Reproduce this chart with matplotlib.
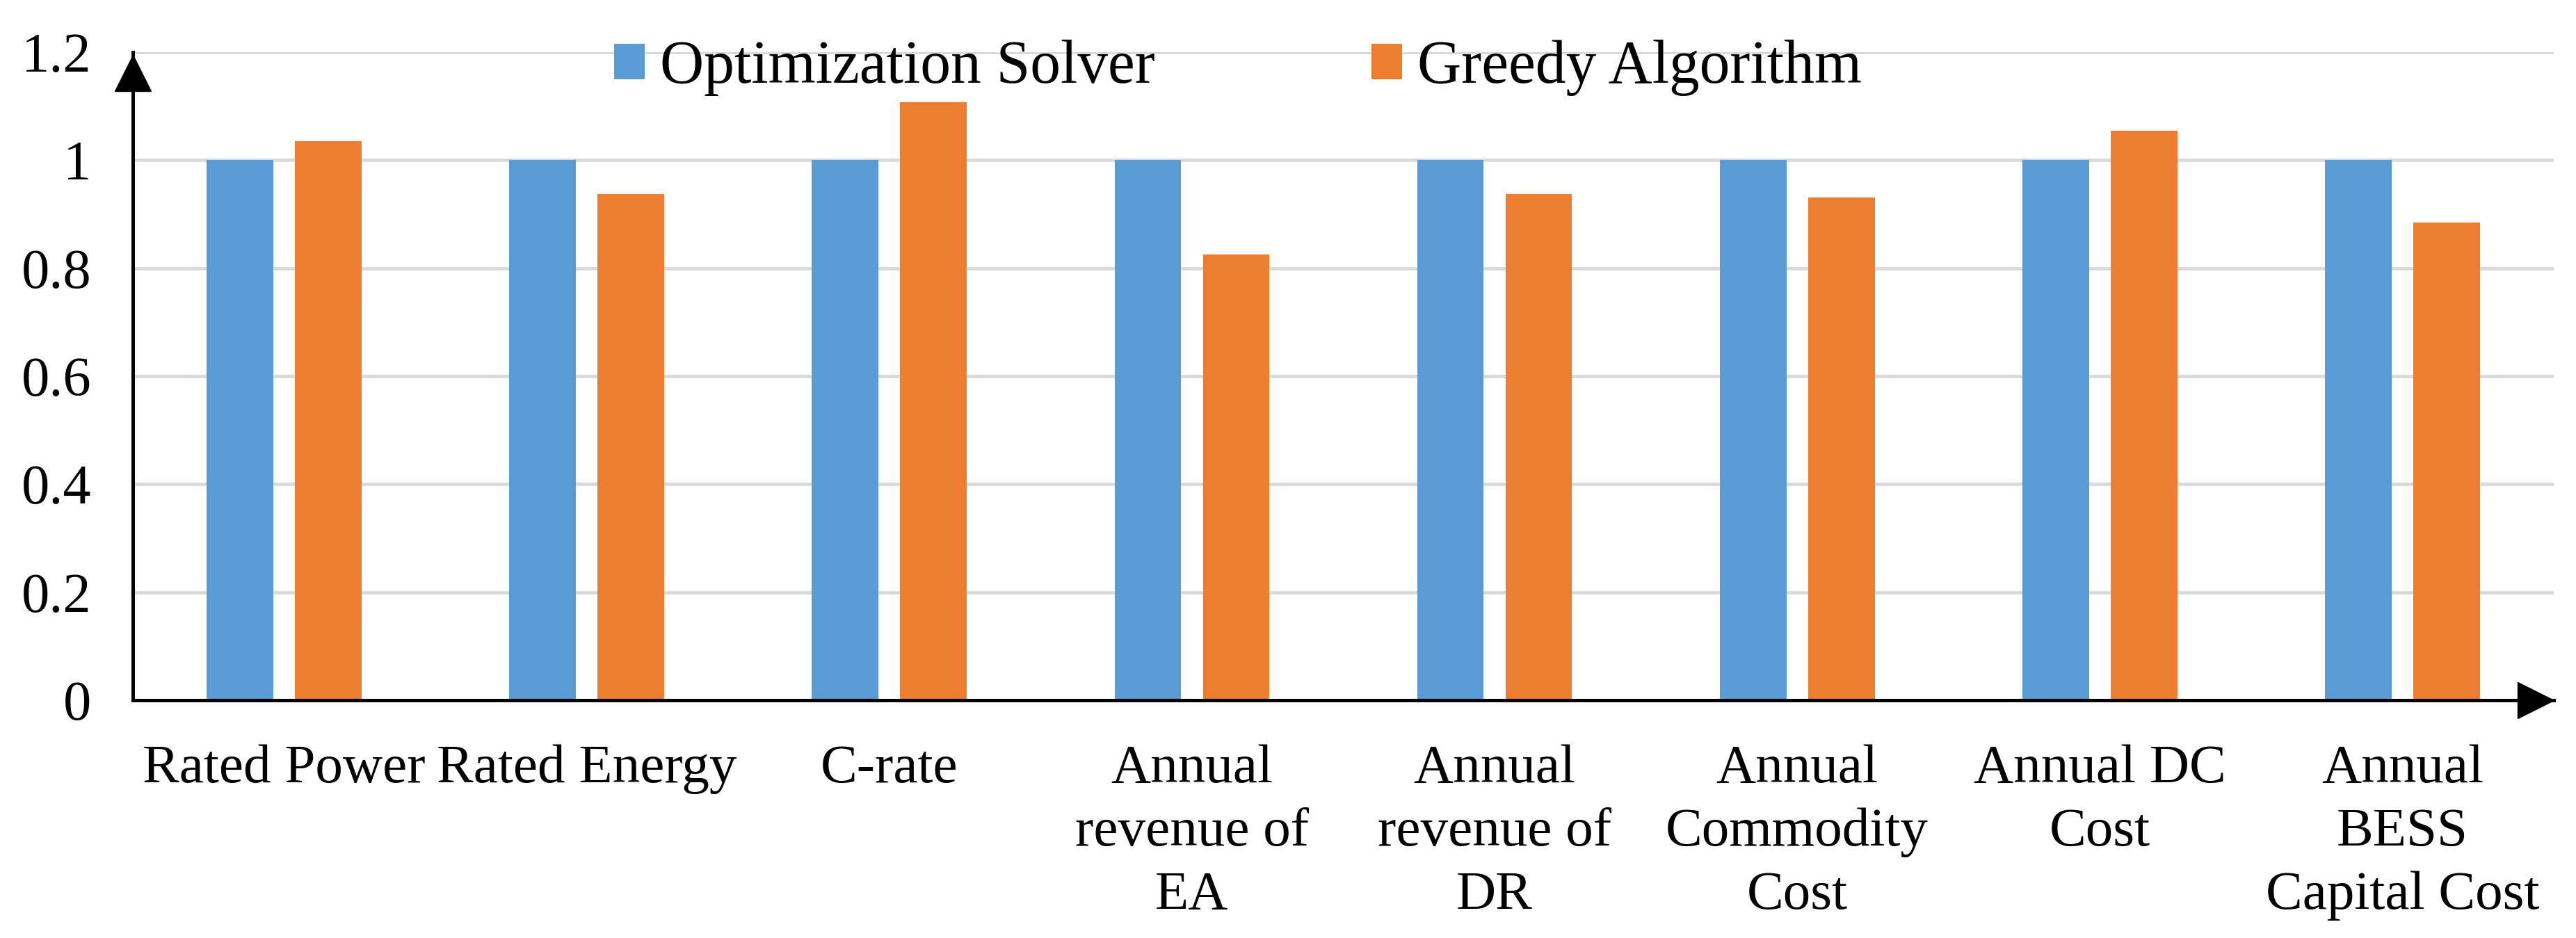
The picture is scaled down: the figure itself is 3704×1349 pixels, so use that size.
import numpy as np
import matplotlib.pyplot as plt

# Данные (нормированные значения, оптимизатор = 1)
categories = ['Rated Power', 'Rated Energy', 'C-rate',
              'Annual\nrevenue of\nEA', 'Annual\nrevenue of\nDR',
              'Annual\nCommodity\nCost', 'Annual DC\nCost',
              'Annual\nBESS\nCapital Cost']
solver_vals = [1.0, 1.0, 1.0, 1.0, 1.0, 1.0, 1.0, 1.0]
greedy_vals = [1.035, 0.937, 1.107, 0.825, 0.937, 0.931, 1.054, 0.884]
y_ticks = [0, 0.2, 0.4, 0.6, 0.8, 1.0, 1.2]
y_ticklabels = ['0', '0.2', '0.4', '0.6', '0.8', '1', '1.2']
series_names = ['Optimization Solver', 'Greedy Algorithm']

plt.rcParams['font.family'] = ['Liberation Serif', 'DejaVu Serif']

W, H = 3705, 1349
fig = plt.figure(figsize=(W / 100, H / 100), dpi=100)
# оси в пикселях: x 191..3672, y 75..1007
ax = fig.add_axes([191 / W, 1 - 1007 / H, (3672 - 191) / W, (1007 - 75) / H])

x = np.arange(len(categories))
bw = 0.22
off = 0.146
ax.bar(x - off, solver_vals, bw, color='#5B9BD5', label=series_names[0], zorder=2)
ax.bar(x + off, greedy_vals, bw, color='#ED7D31', label=series_names[1], zorder=2)

ax.set_xlim(-0.5, len(categories) - 0.5)
ax.set_ylim(0, 1.2)

# сетка
for yv in y_ticks[1:]:
    ax.axhline(yv, color='#d9d9d9', linewidth=3.4, zorder=1)

ax.set_yticks(y_ticks)
ax.set_yticklabels(y_ticklabels, fontsize=58)
ax.set_xticks(x)
ax.set_xticklabels(categories, fontsize=57, linespacing=1.35)
ax.tick_params(axis='y', length=0, pad=43)
ax.tick_params(axis='x', length=0, pad=46)

for s in ['top', 'right']:
    ax.spines[s].set_visible(False)
ax.spines['left'].set_linewidth(3.6)
ax.spines['bottom'].set_linewidth(3.6)
ax.spines['left'].set_zorder(3)
ax.spines['bottom'].set_zorder(3)

# стрелки осей
ax.plot([0], [0.968], marker='^', ms=37, color='black', transform=ax.transAxes,
        clip_on=False, zorder=4)
ax.plot([0.9924], [0], marker='>', ms=38, color='black', transform=ax.transAxes,
        clip_on=False, zorder=4)

fig.legend(loc='center', bbox_to_anchor=(1780 / W, 1 - 98 / H), ncol=2,
           frameon=False, fontsize=63, handlelength=0.51, handleheight=0.52,
           handletextpad=0.25, columnspacing=3.55, borderaxespad=0, borderpad=0)

fig.savefig('out.png', dpi=100)
